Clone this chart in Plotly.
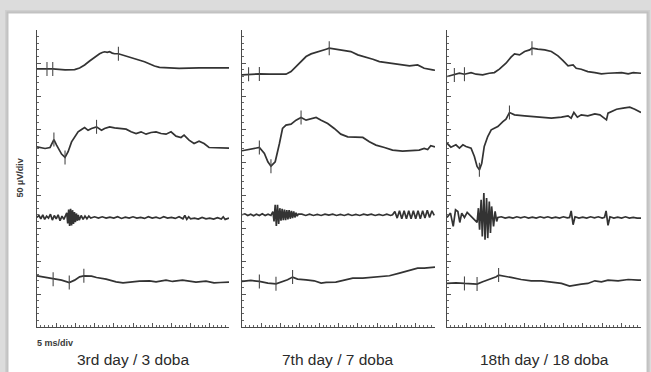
import numpy as np
import plotly.graph_objects as go

W, H = 651, 372

panel_titles = ["3rd day / 3 doba", "7th day / 7 doba", "18th day / 18 doba"]
y_label = "50 µV/div"
x_label = "5 ms/div"

# baseline level (µV) of the four recordings in each panel
offsets = [
    [391, 271, 166, 77],
    [383, 269, 170, 69],
    [382, 277, 166, 66],
]

# ---------------- panel 1 : 3rd day (time ms, amplitude µV) ----------------
p1_r1 = [(0, 0), (2.6, 0), (4.1, 0), (7.3, -1.5), (9.8, -1), (11.1, 1.5), (12.4, 6), (13.7, 12),
         (15, 18), (16.3, 23), (17, 25), (17.6, 26), (18.3, 25), (18.9, 26), (19.6, 24), (20.2, 23),
         (21.2, 23), (22.8, 20), (25.4, 15), (28, 11), (30.6, 4.5), (31.9, 2.3), (34.5, 1.5),
         (37, 1), (42.2, 1.5), (50, 1.5)]
p1_r2 = [(0, 2), (2.1, -0.5), (3.4, 1), (4.4, 13), (5.1, 4.5), (6.4, -9), (7.3, -14), (8.1, -5.5),
         (9, 9.5), (9.8, 17), (10.7, 24.7), (11.6, 28.3), (12.4, 31.3), (13.3, 27), (14.2, 29.8),
         (15.5, 32.3), (16.8, 27), (17.6, 29.8), (18.9, 32.3), (20.2, 30.8), (21.5, 29.8),
         (23.2, 28.8), (24.5, 24.7), (25.8, 22.2), (27.1, 24.7), (28.4, 21.2), (29.7, 23.7),
         (31, 24.7), (32.3, 22.2), (33.6, 21.2), (34.9, 24.7), (36.2, 18.2), (37.5, 16.2),
         (38.3, 19.7), (39.6, 12.1), (40.9, 7), (42.2, 10.6), (43.5, 7), (44.8, 1), (46.5, 0.5),
         (48.3, 1), (49.6, -0.5), (50, 0)]
p1_r3 = [(0, 0), (0.5, 3), (1, -2), (1.5, 4), (2, -3), (2.5, 2), (3, -1), (3.5, 5), (4, -4),
         (4.5, 3), (5, -2), (5.5, 4), (6, -5), (6.5, 2), (7, -3), (7.5, 3),
         (7.75, 7), (8, -9), (8.25, 12), (8.5, -13), (8.75, 13), (9, -12), (9.25, 11), (9.5, -10),
         (9.75, 8), (10, -7), (10.25, 6), (10.5, -5), (10.75, 4), (11, -4),
         (11.5, 3), (12, -3), (12.5, 2), (13, -2), (13.5, 2), (14, -1),
         (15, 1), (16, -1), (17, 1), (18, -1), (19, 0.5), (20, -1), (21, 1), (22, -1.5), (23, 0.5),
         (24, -1), (25, 1), (26, -1), (27, 0), (28, -1.5), (29, 1), (30, -1), (31, 0.5), (32, -1.5),
         (33, 1), (34, -1), (35, 0), (36, -1.5), (37, 1), (38, -2), (38.5, 3), (39, -3), (39.5, 1),
         (40, -2), (41, -1), (42, -2.5), (43, 0), (44, -2), (45, -1), (46, -2.5), (47, -0.5),
         (48, -2.5), (48.5, 1), (49, -3), (50, -1)]
p1_r4 = [(0, 0.5), (2.1, -2), (4.2, -4.5), (6.4, -6), (8.4, -9.6), (9.8, -6), (11.1, -1), (12.2, 0.5),
         (14.2, 0), (15.5, -2), (18, -4.5), (20.6, -8.6), (22.4, -10), (24.1, -8.6), (26.7, -7.6),
         (29.3, -7), (31, -8.6), (33.6, -6), (35.3, -8), (37.9, -6), (39.6, -7.6), (41.4, -9),
         (44, -7.6), (46.1, -10), (47.8, -9.6), (49.6, -9), (50, -9)]

# ---------------- panel 2 : 7th day ----------------
p2_r1 = [(0, -1), (1.9, 0), (4.5, 0.5), (7.1, 0), (11.4, 0), (12.7, 4), (14, 11.6), (15.3, 19.2),
         (16.6, 26.8), (17.9, 30.8), (19.2, 32.8), (20.5, 35.9), (21.8, 37.9), (22.6, 39.4),
         (24.3, 37.9), (26.1, 36.9), (28.2, 34.3), (30, 29.3), (31.7, 26.8), (33.9, 22.7),
         (35.6, 19.2), (37.3, 17.7), (39, 15.7), (41.6, 13.1), (43.4, 12.6), (45.5, 14.1),
         (47.2, 9.1), (49.4, 6.6), (50, 6)]
p2_r2 = [(0, -2), (2.3, 0.5), (4.5, 3), (5.8, -6), (6.7, -18.7), (7.5, -25.3), (8.6, -18.7),
         (9.7, 9.1), (10.5, 31.8), (11.4, 36.9), (12.7, 38.4), (14, 44.4), (15.3, 48.5),
         (16.6, 44.4), (17.9, 47), (19.2, 48.5), (20.5, 44.4), (22.2, 39.4), (23.9, 31.8),
         (25.6, 23.2), (27.4, 19.2), (29.5, 19.2), (31.3, 18.2), (33, 11.6), (34.7, 6.6),
         (36.9, 3), (39, -1), (41.6, -2.5), (44.2, -2), (45.9, -1), (47.2, 1.5), (48.1, 0),
         (48.9, 5.6), (49.8, 4), (50, 4)]
p2_r3 = [(0, 0), (0.75, 1.5), (1.5, -1), (2.25, 1), (3, -1.5), (3.75, 1), (4.5, -1), (5.25, 1.5),
         (6, -1), (6.75, 1), (7.5, -1),
         (8.0, 5), (8.3, -10), (8.6, 15), (8.9, -17), (9.2, 15), (9.5, -14), (9.8, 10), (10.1, -9),
         (10.4, 9), (10.7, -8), (11.0, 8), (11.3, -8), (11.6, 7), (11.9, -7), (12.2, 7), (12.5, -6),
         (12.8, 6), (13.1, -5), (13.4, 5), (13.7, -4), (14.0, 3), (14.3, -2), (14.6, 1),
         (15.5, 1), (16.5, -1), (17.5, 1), (18.5, -1), (19.5, 0.5), (20.5, -1), (21.5, 1),
         (22.5, -0.5), (23.5, 1), (24.5, -1), (25.5, 0.5), (26.5, -1), (27.5, 1), (28.5, -1),
         (29.5, 0.5), (30.5, -1), (31.5, 1), (32.5, -0.5), (33.5, 1), (34.5, -1), (35.5, 0.5),
         (36.5, -1), (37.5, 1), (38.5, -1),
         (39.0, 0), (39.6, 5), (40.2, -5), (40.8, 6), (41.4, -6), (42, 6), (42.6, -6), (43.2, 6),
         (43.8, -6), (44.4, 6), (45, -6), (45.6, 6), (46.2, -6), (46.8, 6), (47.4, -5), (48, 7),
         (48.6, -4), (49.2, 6), (49.8, -1)]
p2_r4 = [(0, 0), (2.3, 1.5), (4.5, 0), (6.7, -2.5), (8.8, -3.5), (10.5, 0), (11.8, 2.5), (13.1, 6.6),
         (14.4, 3.5), (16.6, 2.5), (18.7, 1), (20.5, -2.5), (21.8, -1.5), (24.3, -1), (26.9, 2.5),
         (28.7, 5), (31.3, 5), (33.9, 6), (35.6, 7.6), (38.2, 8.6), (40.8, 12.6), (42.5, 15.2),
         (44.2, 18.7), (45.5, 20.2), (47.2, 20.2), (49.8, 21.7), (50, 21.7)]

# ---------------- panel 3 : 18th day ----------------
p3_r1 = [(0, -2.5), (1.9, 0), (3.2, 2.5), (4.5, 1), (6.2, 3.5), (7.5, 1), (9.2, 0), (10.9, 2.5),
         (12.2, 3.5), (13.5, 8.6), (15.2, 17.7), (16.5, 26.8), (17.4, 31.8), (18.7, 30.3),
         (20, 35.4), (21.3, 37.9), (21.9, 40.4), (23.4, 38.9), (25.2, 37.9), (26.9, 35.4),
         (28.6, 28.8), (29.9, 21.7), (31.2, 13.6), (32.5, 15.2), (33.3, 10.1), (34.6, 8.6),
         (36.3, 5), (38.1, 3.5), (39.8, 1.5), (41.5, 2.5), (43.2, 2.5), (45, 3.5), (46.7, 1.5),
         (48, 3.5), (50, 2.5)]
p3_r2 = [(0, 1.5), (1, -4.5), (2.3, -1), (3.2, -6), (4.1, -1), (4.9, -3.5), (6.2, -6), (7.06, -18.7),
         (7.75, -33.8), (8.35, -38.9), (8.96, -28.8), (9.6, -3.5), (10.5, 11.6), (11.4, 21.7),
         (12.2, 24.2), (13.1, 26.8), (14.4, 34.3), (15.2, 37.9), (16.1, 48), (17.4, 44.4),
         (20, 42.9), (22.6, 41.9), (25.2, 40.9), (26.9, 39.4), (29.5, 40.9), (31.2, 42.9),
         (32, 39.4), (32.7, 48), (33.6, 40.9), (34.6, 44.4), (36.3, 42.9), (38.1, 46),
         (39.4, 44.4), (40.2, 40.9), (41.1, 36.9), (41.5, 47), (42.4, 49.5), (43.7, 53),
         (45.4, 54.5), (47.1, 56), (48.4, 53), (49.3, 49.5), (50, 48)]
p3_r3 = [(0, 0), (0.9, 6.6), (1.6, -13.6), (2.2, 11.6), (2.8, 9), (3.3, -7.6), (3.8, 6.6), (4.5, 0),
         (5.2, 7.6), (6, 2.5), (7.1, -3.5), (7.75, -7.6),
         (8.1, 14), (8.4, -18.7), (8.8, 26.8), (9.1, -28.8), (9.5, 36.9), (9.8, -33.8), (10.2, 29.3),
         (10.5, -31.3), (10.9, 24.2), (11.2, -23.7), (11.5, 16.7), (12, -13.6), (12.4, 9.1),
         (12.8, -6), (13.1, 0),
         (14, 1), (15, -1), (16, 0.5), (17, -1), (18, 1), (19, -0.5), (20, 1), (21, -1), (22, 0.5),
         (23, -1), (24, 1), (25, -0.5), (26, 1), (27, -1), (28, 0.5), (29, -1), (30, 1), (31, -0.5),
         (31.6, 0), (32.0, 10), (32.5, -11), (33, 1), (34, -1), (35, 0.5), (36, -1), (37, 1),
         (38, -0.5), (39, 1), (40, -1), (40.6, 0), (41.0, 10), (41.5, -12), (42, 1), (43, -1),
         (44, 0.5), (45, -1), (46, 1), (47, -1), (48, 0), (49, -1), (50, -1)]
p3_r4 = [(0, 0), (2.3, 1), (4.5, 0), (6.2, 0), (7.75, -1), (9.2, 2.5), (10.9, 6), (12.7, 10.1),
         (13.3, 12.6), (14.4, 11.1), (16.5, 9.1), (19.1, 6), (21.7, 4), (24.3, 4), (26.9, 2.5),
         (29.5, 0), (31.6, -4), (32.9, -2.5), (34.6, -1), (36.3, 0), (38.1, 4), (39.8, 2.5),
         (41.5, 5), (44.1, 4), (46.7, 6), (49.3, 5), (50, 5)]

# latency markers (ms) on each recording
marks = [
    [[2.6, 4.1, 21.2], [4.4, 7.3, 15.5], [], [4.2, 8.4, 12.2]],
    [[1.7, 4.5, 22.6], [4.5, 7.5, 15.3], [], [4.5, 8.8, 13.1]],
    [[1.9, 4.5, 21.9], [8.35, 16.1], [], [4.5, 7.75, 13.3]],
]

panels = [
    [p1_r1, p1_r2, p1_r3, p1_r4],
    [p2_r1, p2_r2, p2_r3, p2_r4],
    [p3_r1, p3_r2, p3_r3, p3_r4],
]

# pixel layout helpers
px_domains = [(37, 229), (242, 435), (447, 641)]
py_bottom, py_top = 327, 30

FONT = "Liberation Sans, Arial, sans-serif"
LINE_COLOR = "#333333"

fig = go.Figure()

for i in range(3):
    xa = "x" if i == 0 else f"x{i+1}"
    ya = "y" if i == 0 else f"y{i+1}"
    for k in range(4):
        t = np.array([p[0] for p in panels[i][k]], dtype=float)
        v = np.array([p[1] for p in panels[i][k]], dtype=float) + offsets[i][k]
        fig.add_trace(go.Scatter(
            x=t, y=v, mode="lines", xaxis=xa, yaxis=ya,
            line=dict(color=LINE_COLOR, width=1.7),
            hoverinfo="skip", showlegend=False,
        ))
        if marks[i][k]:
            mt = np.array(marks[i][k], dtype=float)
            mv = np.interp(mt, t, v)
            fig.add_trace(go.Scatter(
                x=mt, y=mv, mode="markers", xaxis=xa, yaxis=ya,
                marker=dict(symbol="line-ns", size=10,
                            line=dict(color="#4a4a4a", width=1.1)),
                hoverinfo="skip", showlegend=False, cliponaxis=False,
            ))

layout = dict(
    width=W, height=H,
    margin=dict(l=0, r=0, t=0, b=0),
    paper_bgcolor="#dcdcdc",
    plot_bgcolor="rgba(0,0,0,0)",
    showlegend=False,
    font=dict(family=FONT, color="#333333"),
)

for i, (a, b) in enumerate(px_domains):
    xk = "xaxis" if i == 0 else f"xaxis{i+1}"
    yk = "yaxis" if i == 0 else f"yaxis{i+1}"
    xa = "x" if i == 0 else f"x{i+1}"
    ya = "y" if i == 0 else f"y{i+1}"
    layout[xk] = dict(
        domain=[a / W, b / W], range=[0, 50], anchor=ya,
        showline=True, linecolor="#4a4a4a", linewidth=1.3,
        ticks="inside", ticklen=4, tickwidth=1, tickcolor="#555555",
        tick0=0, dtick=5,
        minor=dict(ticks="inside", ticklen=2, tickwidth=1, tickcolor="#666666", dtick=1),
        showticklabels=False, showgrid=False, zeroline=False, fixedrange=True,
    )
    layout[yk] = dict(
        domain=[(H - py_bottom) / H, (H - py_top) / H], range=[0, 450], anchor=xa,
        showline=True, linecolor="#4a4a4a", linewidth=1.3,
        ticks="inside", ticklen=4, tickwidth=1, tickcolor="#555555",
        tick0=0, dtick=50,
        minor=dict(ticks="inside", ticklen=2, tickwidth=1, tickcolor="#666666", dtick=10),
        showticklabels=False, showgrid=False, zeroline=False, fixedrange=True,
    )

fig.update_layout(**layout)

# page card with shadow
fig.add_shape(type="rect", xref="paper", yref="paper", layer="below",
              x0=5 / W, x1=650 / W, y0=-0.02, y1=(H - 10) / H,
              fillcolor="rgba(0,0,0,0.06)", line=dict(width=0))
fig.add_shape(type="rect", xref="paper", yref="paper", layer="below",
              x0=6.5 / W, x1=648.5 / W, y0=-0.02, y1=(H - 11.5) / H,
              fillcolor="rgba(0,0,0,0.07)", line=dict(width=0))
fig.add_shape(type="rect", xref="paper", yref="paper", layer="below",
              x0=8 / W, x1=647 / W, y0=-0.02, y1=(H - 13) / H,
              fillcolor="white", line=dict(color="#c4c4c4", width=1))

annotations = []
for i, (a, b) in enumerate(px_domains):
    annotations.append(dict(
        text=panel_titles[i], xref="paper", yref="paper",
        x=(a + b) / 2 / W, y=(H - 359) / H, xanchor="center", yanchor="middle",
        showarrow=False, font=dict(family=FONT, size=15.5, color="#2a2a2a"),
    ))
annotations.append(dict(
    text=f"<b>{x_label}</b>", xref="paper", yref="paper",
    x=35 / W, y=(H - 343) / H, xanchor="left", yanchor="middle",
    showarrow=False, font=dict(family=FONT, size=9, color="#3a3a3a"),
))
annotations.append(dict(
    text=f"<b>{y_label}</b>", xref="paper", yref="paper", textangle=-90,
    x=19.5 / W, y=(H - 178) / H, xanchor="center", yanchor="middle",
    showarrow=False, font=dict(family=FONT, size=9, color="#3a3a3a"),
))
fig.update_layout(annotations=annotations)

fig.write_html(
    "out.html",
    config={"displayModeBar": False, "staticPlot": True},
    post_script="document.body.style.margin='0';document.body.style.overflow='hidden';",
)
